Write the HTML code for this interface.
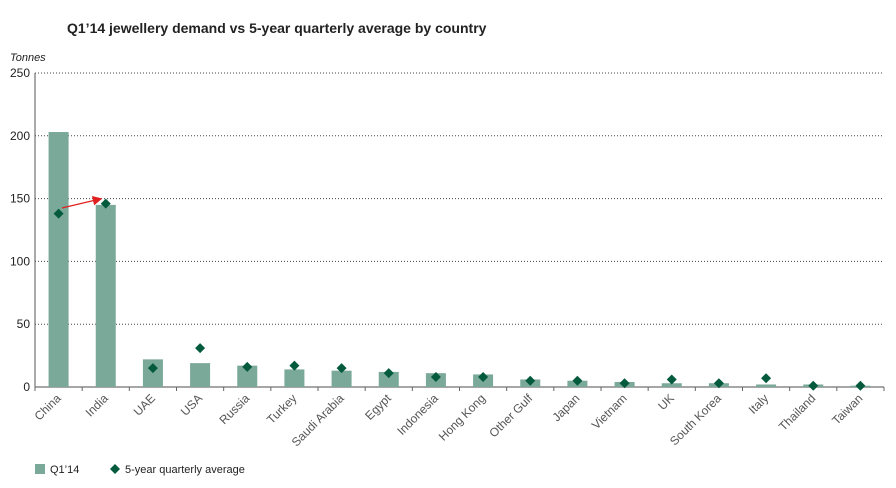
<!DOCTYPE html>
<html><head><meta charset="utf-8"><style>
body{margin:0;background:#fff;}
svg{display:block;font-family:"Liberation Sans",sans-serif;}
</style></head><body>
<svg id="c" width="896" height="488">
<text x="67" y="33" font-size="14" font-weight="bold" fill="#222">Q1’14 jewellery demand vs 5-year quarterly average by country</text>
<text x="10" y="61" font-size="11" font-style="italic" fill="#222">Tonnes</text>
<g id="grid"></g><g id="bars"></g><g id="pts"></g><g id="xl"></g>
<g>
<rect x="35" y="464" width="10" height="10" fill="#7aa899"/>
<text x="50" y="473" font-size="11" fill="#222">Q1’14</text>
<path d="M115 464 L120 469 L115 474 L110 469Z" fill="#045a3c"/>
<text x="125" y="473" font-size="11" fill="#222">5-year quarterly average</text>
</g>
<defs><marker id="ah" markerWidth="8" markerHeight="8" refX="6" refY="4" orient="auto"><path d="M0 0 L8 4 L0 8Z" fill="#e02020"/></marker></defs>
<line x1="62" y1="208" x2="100" y2="199" stroke="#e02020" stroke-width="1.2" marker-end="url(#ah)"/>
</svg>
<script>
const categories=["China","India","UAE","USA","Russia","Turkey","Saudi Arabia","Egypt","Indonesia","Hong Kong","Other Gulf","Japan","Vietnam","UK","South Korea","Italy","Thailand","Taiwan"];
const q1Values=[203,145,22,19,17,14,13,12,11,10,6,5,4,3,3,2,2,1];
const avgValues=[138,146,15,31,16,17,15,11,8,8,5,5,3,6,3,7,1,1];
const yTicks=[0,50,100,150,200,250];
const NS="http://www.w3.org/2000/svg";
const x0=35,x1=884,y0=387,yTop=73,yMax=250;
const step=(x1-x0)/categories.length;
const X=i=>x0+step*(i+0.5);
const Y=v=>y0-(v/yMax)*(y0-yTop);
function mk(t,a,p){const e=document.createElementNS(NS,t);for(const k in a)e.setAttribute(k,a[k]);p.appendChild(e);return e;}
const g=document.getElementById('grid');
yTicks.forEach(t=>{
 if(t>0){const l=mk('line',{x1:x0,x2:x1,y1:Y(t),y2:Y(t),stroke:'#444','stroke-dasharray':'1,2','stroke-width':1},g);
 
 }
 const tx=mk('text',{x:30,y:Y(t)+4,'font-size':12,'text-anchor':'end',fill:'#222'},g);
 tx.textContent=t;
 
 
});
const ya=mk('line',{x1:x0,x2:x0,y1:yTop,y2:y0,stroke:'#555','stroke-width':1},g);


const xa=mk('line',{x1:x0,x2:x1,y1:y0,y2:y0,stroke:'#888','stroke-width':1.5},g);


for(let i=0;i<=categories.length;i++){const tk=mk('line',{x1:x0+step*i,x2:x0+step*i,y1:y0,y2:y0+4,stroke:'#666'},g);

}
const b=document.getElementById('bars'),p=document.getElementById('pts'),xl=document.getElementById('xl');
categories.forEach((c,i)=>{
 const r=mk('rect',{x:X(i)-10,y:Y(q1Values[i]),width:20,height:y0-Y(q1Values[i]),fill:'#7aa899'},b);
 
 
 const cx=X(i),cy=Y(avgValues[i]);
 const d=mk('path',{d:`M${cx} ${cy-5}L${cx+5} ${cy}L${cx} ${cy+5}L${cx-5} ${cy}Z`,fill:'#045a3c'},p);
 
 
 const t=mk('text',{x:cx+3,y:y0+12,'font-size':12,'text-anchor':'end',fill:'#555',transform:`rotate(-45 ${cx+3} ${y0+12})`},xl);
 t.textContent=c;
 
 
});
</script>
</body></html>
